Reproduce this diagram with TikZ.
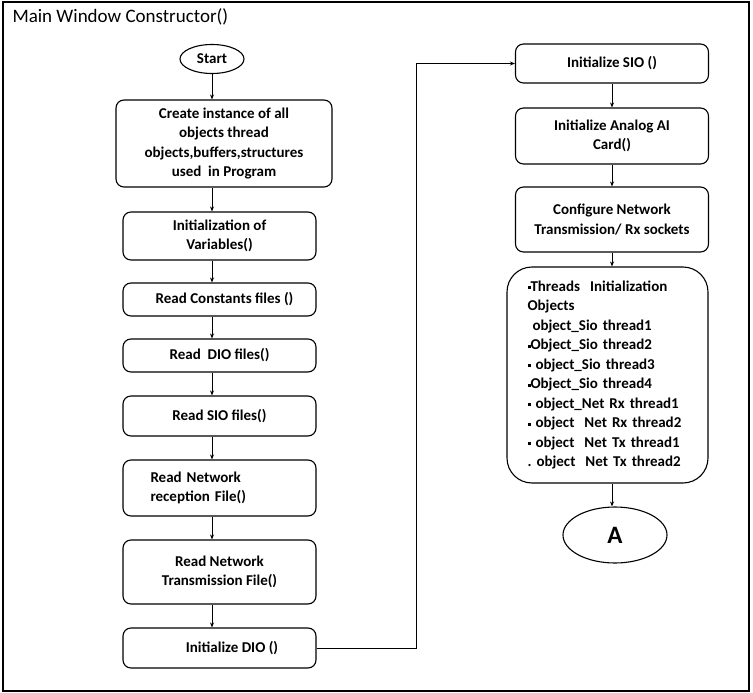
\documentclass[tikz,border=0pt]{standalone}
\usepackage{fontspec}
\setmainfont{Carlito}
\usetikzlibrary{arrows.meta,shapes.geometric}
\newcommand\sqb{\raisebox{.3ex}{\rule{3pt}{3pt}}}
\tikzset{flow/.style={-{Stealth[length=5pt,width=4pt]},line width=.9pt},
box/.style={draw,line width=1.1pt,rounded corners=8pt,minimum width=193pt,inner sep=2pt,
  align=center,font=\bfseries\fontsize{15}{19.5}\selectfont},
term/.style={draw,ellipse,line width=1.1pt,inner sep=0pt},
frame/.style={line width=1.5pt}}
\begin{document}
\begin{tikzpicture}[x=1pt,y=-1pt]
\useasboundingbox (0,0) rectangle (753,693);
\draw[frame] (3,2) rectangle (749,691);
\node[anchor=west,font=\fontsize{19}{22}\selectfont] (title) at (9,17) {Main Window Constructor()};
% left column
\node[term,minimum width=64pt,minimum height=29pt,font=\bfseries\fontsize{15}{17}\selectfont] (start) at (212,59) {Start};
\node[box,minimum width=216pt,minimum height=87pt] (create) at (224,143.5) {Create instance of all\\objects thread\\objects,buffers,structures\\used\ \ in Program};
\node[box,minimum height=48pt] (vars) at (219.5,236) {Initialization of\\Variables()};
\node[box,minimum height=33pt] (consts) at (219.5,299.5) {\hspace*{10pt}Read Constants files ()};
\node[box,minimum height=33pt] (diofiles) at (219.5,355.5) {Read\ \ DIO files()};
\node[box,minimum height=40pt] (siofiles) at (219.5,416) {Read SIO files()};
\node[box,minimum height=56pt,align=left,text width=138pt] (netrx) at (219.5,488) {Read Network\\reception File()};
\node[box,minimum height=64pt] (nettx) at (219.5,572) {Read Network\\Transmission File()};
\node[box,minimum height=40pt] (initdio) at (219.5,648) {\hspace*{25pt}Initialize DIO ()};
% right column
\node[box,minimum height=39pt] (initsio) at (612,63.5) {Initialize SIO ()};
\node[box,minimum height=56pt] (analog) at (612,136) {Initialize Analog AI\\Card()};
\node[box,minimum height=65pt] (netcfg) at (612,219.5) {Configure Network\\Transmission/ Rx sockets};
\node[box,rounded corners=25pt,minimum width=201pt,minimum height=216pt,align=left,text width=160pt] (threads) at (607.5,375) {\sqb Threads\ \ Initialization\\
Objects\\
\ object\_Sio thread1\\
\sqb Object\_Sio thread2\\
\sqb\ object\_Sio thread3\\
\sqb Object\_Sio thread4\\
\sqb\ object\_Net Rx thread1\\
\sqb\ object\ \ Net Rx thread2\\
\sqb\ object\ \ Net Tx thread1\\
.\ object\ \ Net Tx thread2};
\node[term,minimum width=104pt,minimum height=56pt,font=\bfseries\fontsize{25}{28}\selectfont] (endA) at (615,535) {A};
\coordinate (bend) at (416,648);
% connectors
\draw[flow] (start) -- (create.north -| start);
\foreach \a/\b in {create/vars,vars/consts,consts/diofiles,diofiles/siofiles,siofiles/netrx,netrx/nettx,nettx/initdio}
  \draw[flow] (\a.south -| start) -- (\b.north -| start);
\draw[flow] (initdio.east) -- (bend) |- (initsio.west);
\foreach \a/\b in {initsio/analog,analog/netcfg,netcfg/threads}
  \draw[flow] (\a.south -| initsio) -- (\b.north -| initsio);
\draw[flow] (threads.south -| initsio) -- (endA.north -| initsio);
\end{tikzpicture}
\end{document}
